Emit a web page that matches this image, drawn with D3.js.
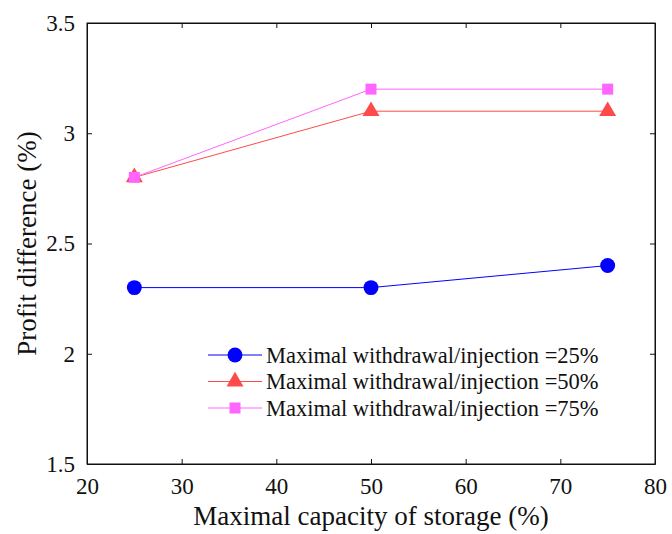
<!DOCTYPE html>
<html>
<head>
<meta charset="utf-8">
<script src="https://d3js.org/d3.v7.min.js"></script>
<style>
  body { margin: 0; background: #fff; }
</style>
</head>
<body>
<div id="chart"></div>
<script>
const width = 672, height = 534;
const margin = {top: 23, right: 17, bottom: 70, left: 87};

const capacity = [25, 50, 75];
const seriesNames = ["Maximal withdrawal/injection =25%", "Maximal withdrawal/injection =50%", "Maximal withdrawal/injection =75%"];
const values25 = [2.3, 2.3, 2.4];
const values50 = [2.8, 3.1, 3.1];
const values75 = [2.8, 3.2, 3.2];
const xTicks = [20, 30, 40, 50, 60, 70, 80];
const yTicks = [1.5, 2, 2.5, 3, 3.5];

const series = [
  {name: seriesNames[0], values: values25, color: "#0000ff", shape: "circle"},
  {name: seriesNames[1], values: values50, color: "#ff4a4a", shape: "triangle"},
  {name: seriesNames[2], values: values75, color: "#ff66ff", shape: "square"}
];

const svg = d3.select("#chart").append("svg").attr("width", width).attr("height", height);
const iw = width - margin.left - margin.right, ih = height - margin.top - margin.bottom;
const g = svg.append("g").attr("transform", `translate(${margin.left},${margin.top})`);

const x = d3.scaleLinear().domain([20, 80]).range([0, iw]);
const y = d3.scaleLinear().domain([1.5, 3.5]).range([ih, 0]);

const serif = '"Liberation Serif"';
const fmt = d => d3.format("")(d);

// axes with inward ticks, mirrored on top/right
g.append("g").attr("transform", `translate(0,${ih})`)
  .call(d3.axisBottom(x).tickValues(xTicks).tickSizeInner(-5).tickSizeOuter(0).tickPadding(14).tickFormat(fmt));
g.append("g")
  .call(d3.axisLeft(y).tickValues(yTicks).tickSizeInner(-5).tickSizeOuter(0).tickPadding(12).tickFormat(fmt));
g.append("g")
  .call(d3.axisTop(x).tickValues(xTicks).tickSizeInner(-5).tickSizeOuter(0).tickFormat(""));
g.append("g").attr("transform", `translate(${iw},0)`)
  .call(d3.axisRight(y).tickValues(yTicks).tickSizeInner(-5).tickSizeOuter(0).tickFormat(""));
g.selectAll("g").attr("font-family", null);
g.selectAll(".tick text").style("font-size", "23px");
g.selectAll(".domain").attr("stroke", "#111");
g.selectAll(".tick line").attr("stroke", "#111");
g.append("rect").attr("width", iw).attr("height", ih).attr("fill", "none").attr("stroke", "#111");

const symbolFor = {
  circle: d3.symbol().type(d3.symbolCircle).size(175),
  triangle: d3.symbol().type(d3.symbolTriangle).size(125),
  square: d3.symbol().type(d3.symbolSquare).size(121)
};

const line = d3.line().x((d, i) => x(capacity[i])).y(d => y(d));
series.forEach(s => {
  g.append("path").datum(s.values).attr("d", line)
    .attr("fill", "none").attr("stroke", s.color).attr("stroke-width", 1);
  g.selectAll(null).data(s.values).enter().append("path")
    .attr("d", symbolFor[s.shape])
    .attr("transform", (d, i) => `translate(${x(capacity[i])},${y(d)})`)
    .attr("fill", s.color);
});

// legend
const lg = svg.append("g").attr("transform", "translate(208,355)");
series.forEach((s, i) => {
  const row = lg.append("g").attr("transform", `translate(0,${i * 26.5})`);
  row.append("line").attr("x1", 0).attr("x2", 54).attr("stroke", s.color).attr("stroke-width", 1);
  row.append("path").attr("d", symbolFor[s.shape]).attr("transform", "translate(27,0)").attr("fill", s.color);
  row.append("text").attr("x", 58).attr("dy", "0.35em").style("font-size", "22.5px").text(s.name);
});

// axis titles
svg.append("text").attr("x", margin.left + iw / 2).attr("y", 525).attr("text-anchor", "middle")
  .style("font-size", "27px").text("Maximal capacity of storage (%)");
svg.append("text").attr("transform", `translate(36,${margin.top + ih / 2}) rotate(-90)`)
  .attr("text-anchor", "middle").style("font-size", "27px").text("Profit difference (%)");

svg.selectAll("text").style("font-family", serif).style("fill", "#111");
</script>
</body>
</html>
